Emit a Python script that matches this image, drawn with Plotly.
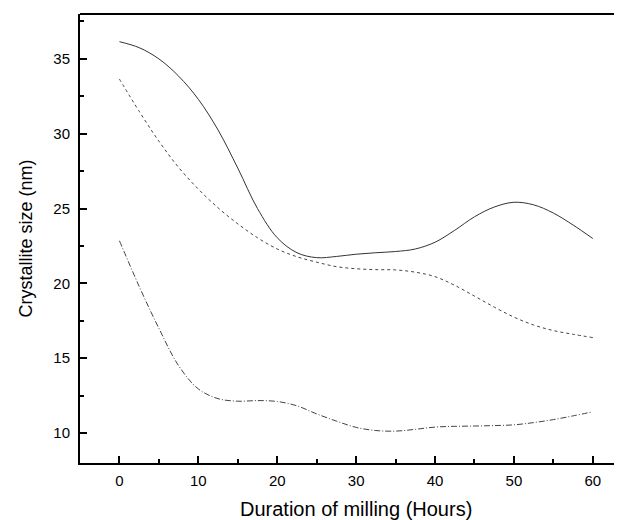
import plotly.graph_objects as go

hours = [0, 2.5, 5, 7.5, 10, 12.5, 15, 17.5, 20, 22.5, 25, 27.5, 30, 32.5, 35, 37.5,
         40, 42.5, 45, 47.5, 50, 52.5, 55, 57.5, 60]
solid = [36.15, 35.75, 35.0, 33.85, 32.3, 30.25, 27.7, 25.0, 23.05, 22.05, 21.72, 21.8, 21.95, 22.05,
         22.13, 22.3, 22.75, 23.55, 24.45, 25.1, 25.42, 25.25, 24.7, 23.9, 23.0]
dashed = [33.65, 31.5, 29.5, 27.75, 26.3, 25.05, 23.98, 23.05, 22.3, 21.78, 21.42, 21.12, 20.98,
          20.92, 20.9, 20.75, 20.45, 19.87, 19.15, 18.42, 17.75, 17.22, 16.85, 16.6, 16.38]
dashdot = [22.85, 19.8, 17.0, 14.5, 12.95, 12.3, 12.13, 12.17, 12.11, 11.82, 11.28, 10.8, 10.38,
           10.17, 10.13, 10.25, 10.4, 10.45, 10.47, 10.5, 10.55, 10.7, 10.9, 11.15, 11.42]

x_ticks = [0, 10, 20, 30, 40, 50, 60]
y_ticks = [10, 15, 20, 25, 30, 35]

fig = go.Figure()
fig.add_trace(go.Scatter(x=hours, y=solid, mode="lines",
                         line=dict(color="#333333", width=1, shape="spline", smoothing=1.0)))
fig.add_trace(go.Scatter(x=hours, y=dashed, mode="lines",
                         line=dict(color="#444444", width=1, shape="spline", smoothing=1.0, dash="3px,3px")))
fig.add_trace(go.Scatter(x=hours, y=dashdot, mode="lines",
                         line=dict(color="#444444", width=1, shape="spline", smoothing=1.0, dash="6px,2px,1px,2px")))

# page body has an 8px default margin, so the figure is offset by (8, 8)
fig.update_layout(
    width=614, height=512,
    margin=dict(l=72, r=0, t=6, b=57),
    paper_bgcolor="white", plot_bgcolor="white",
    showlegend=False,
    font=dict(family="Liberation Sans, Arial, sans-serif", color="black", size=15),
)
fig.update_xaxes(range=[-5, 63.7], tickvals=x_ticks, ticks="inside", ticklen=7, tickwidth=1.5,
                 tickcolor="black", showline=True, linecolor="black", linewidth=2, mirror=False,
                 showgrid=False, zeroline=False, tickfont=dict(size=15), automargin=False,
                 ticklabelstandoff=3,
                 minor=dict(dtick=5, tick0=0, ticks="inside", ticklen=4, tickwidth=1.5, tickcolor="black"))
fig.update_yaxes(range=[8, 38], tickvals=y_ticks, ticks="inside", ticklen=7, tickwidth=1.5,
                 tickcolor="black", showline=True, linecolor="black", linewidth=2,
                 showgrid=False, zeroline=False, tickfont=dict(size=15), ticklabelstandoff=5,
                 automargin=False,
                 minor=dict(dtick=2.5, tick0=0, ticks="inside", ticklen=4, tickwidth=1.5, tickcolor="black"))
# top border line
fig.add_shape(type="line", xref="paper", yref="paper", x0=0, x1=1, y0=1, y1=1,
              line=dict(color="black", width=2))
fig.add_annotation(text="Duration of milling (Hours)", xref="x", yref="paper", x=30, y=0,
                   yshift=-46, yanchor="middle", showarrow=False, font=dict(size=20))
fig.add_annotation(text="Crystallite size (nm)", xref="paper", yref="paper", x=0, y=0.5,
                   xshift=-55, xanchor="center", yanchor="middle", textangle=-90,
                   showarrow=False, font=dict(size=18))

fig.write_html("out.html")
